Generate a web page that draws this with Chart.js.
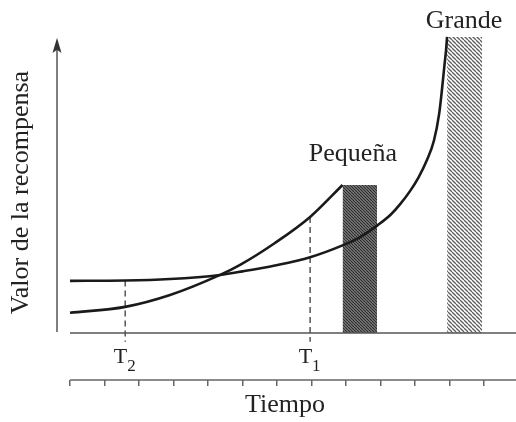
<!DOCTYPE html>
<html>
<head>
<meta charset="utf-8">
<script src="https://cdn.jsdelivr.net/npm/chart.js@4"></script>
<style>
  body { margin: 0; background: #fff; }
  #wrap { width: 516px; height: 422px; }
</style>
</head>
<body>
<div id="wrap"><canvas id="myChart"></canvas></div>
<script>
// curve data (time in tick units, value 0..100)
const timeSmall  = [0, 1.6, 2.9, 4.35, 4.93, 5.94, 6.96, 7.9];
const valueSmall = [6.8, 8.8, 12.8, 19.6, 23.0, 30.4, 39.2, 50];

const timeLarge  = [0, 1.6, 2.9, 4.35, 5.0, 5.94, 6.96, 7.9, 8.41, 8.93, 9.3, 9.57, 9.86, 10.1, 10.35, 10.55, 10.7, 10.78, 10.85, 10.9, 10.93];
const valueLarge = [17.6, 17.7, 18.2, 19.6, 20.8, 22.8, 25.6, 29.6, 32.4, 36.5, 40.0, 43.5, 48.0, 52.5, 58.5, 65, 74, 82, 90, 95.5, 100];

// reward bars
const rewardNames = ['Pequeña', 'Grande'];
const barStart  = [7.9, 10.93];
const barEnd    = [8.9, 11.95];
const barHeight = [50, 100];

// T marks
const markTimes  = [1.6, 6.96];
const markTops   = [17.7, 39.2];
const markSubs   = ['2', '1'];

const xMin = -0.377, xMax = 12.841, xEnd = 12.93;
const yMin = -15.9, yMax = 110.8;

// hatch patterns
function hatch(size, bg, fg, w) {
  const c = document.createElement('canvas');
  c.width = size; c.height = size;
  const g = c.getContext('2d');
  g.fillStyle = bg;
  g.fillRect(0, 0, size, size);
  g.strokeStyle = fg;
  g.lineWidth = w;
  for (let k = -2; k <= 2; k++) {
    g.beginPath();
    g.moveTo(k * size, 0);
    g.lineTo(k * size + size, size);
    g.stroke();
  }
  return g.createPattern(c, 'repeat');
}
const ctx0 = document.getElementById('myChart').getContext('2d');
const patternSmall = hatch(3, '#828282', '#2a2a2a', 1.1);
const patternLarge = hatch(4, '#ffffff', '#5e5e5e', 1.3);

// arrow head
const arrow = document.createElement('canvas');
arrow.width = 10; arrow.height = 16;
(function () {
  const g = arrow.getContext('2d');
  g.fillStyle = '#333';
  g.beginPath();
  g.moveTo(5, 0);
  g.lineTo(9.5, 15);
  g.lineTo(5, 12);
  g.lineTo(0.5, 15);
  g.closePath();
  g.fill();
})();

function pts(xs, ys) { return xs.map((x, i) => ({x: x, y: ys[i]})); }

const datasets = [];

// bars as filled rectangles
barStart.forEach((s, i) => {
  datasets.push({
    data: [{x: s, y: 0}, {x: s, y: barHeight[i]}, {x: barEnd[i], y: barHeight[i]}, {x: barEnd[i], y: 0}],
    borderWidth: 0,
    pointRadius: 0,
    fill: 'origin',
    backgroundColor: i === 0 ? patternSmall : patternLarge,
    order: 5
  });
});

// dashed T lines
markTimes.forEach((t, i) => {
  datasets.push({
    data: [{x: t, y: markTops[i]}, {x: t, y: -3}],
    borderColor: '#555',
    borderWidth: 1.5,
    borderDash: [6, 4],
    pointRadius: 0,
    order: 4
  });
});

// baseline, tick axis line, y axis with arrow
datasets.push({
  data: [{x: 0, y: 0}, {x: xEnd, y: 0}],
  borderColor: '#555', borderWidth: 1.5, pointRadius: 0, clip: false, order: 3
});
datasets.push({
  data: [{x: 0, y: yMin}, {x: xEnd, y: yMin}],
  borderColor: '#666', borderWidth: 1.5, pointRadius: 0, clip: false, order: 3
});
datasets.push({
  data: [{x: xMin, y: 0.3}, {x: xMin, y: 97}],
  borderColor: '#555', borderWidth: 1.5,
  pointRadius: [0, 8], pointStyle: arrow,
  clip: false, order: 3
});

// curves
datasets.push({
  data: pts(timeSmall, valueSmall),
  borderColor: '#1a1a1a', borderWidth: 2.6, pointRadius: 0,
  cubicInterpolationMode: 'monotone', order: 1
});
datasets.push({
  data: pts(timeLarge, valueLarge),
  borderColor: '#1a1a1a', borderWidth: 2.6, pointRadius: 0,
  cubicInterpolationMode: 'monotone', order: 1
});

const serif = '"Liberation Serif", "DejaVu Serif", serif';

const labelPlugin = {
  id: 'labels',
  afterDatasetsDraw(chart) {
    const {ctx, scales: {x, y}} = chart;
    ctx.save();
    ctx.fillStyle = '#222';
    ctx.textBaseline = 'alphabetic';
    ctx.textAlign = 'center';
    ctx.font = '26px ' + serif;
    ctx.fillText(rewardNames[0], x.getPixelForValue(8.2), y.getPixelForValue(58.1));
    ctx.fillText(rewardNames[1], x.getPixelForValue(11.42), y.getPixelForValue(103));
    markTimes.forEach((t, i) => {
      const px = x.getPixelForValue(t);
      ctx.textAlign = 'right';
      ctx.font = '22px ' + serif;
      ctx.fillText('T', px + 2, y.getPixelForValue(-10.1));
      ctx.textAlign = 'left';
      ctx.font = '17px ' + serif;
      ctx.fillText(markSubs[i], px + 2, y.getPixelForValue(-12.8));
    });
    ctx.restore();
  }
};

const config = {
  type: 'line',
  data: { datasets: datasets },
  options: {
    responsive: true,
    maintainAspectRatio: false,
    animation: false,
    events: [],
    layout: { autoPadding: false, padding: { top: 5, right: 3, bottom: 0, left: 0 } },
    plugins: { legend: { display: false }, tooltip: { enabled: false } },
    scales: {
      x: {
        type: 'linear',
        min: xMin, max: xMax,
        border: { display: false },
        grid: { display: true, drawOnChartArea: false, drawTicks: true, tickLength: 6, color: '#666', lineWidth: 1.5 },
        ticks: { display: false, stepSize: 1, includeBounds: false, autoSkip: false },
        title: { display: true, text: 'Tiempo', color: '#222', font: { family: serif, size: 26 }, padding: { top: 3, bottom: 1 } },
        afterFit: (s) => { s.height = 42; }
      },
      y: {
        type: 'linear',
        min: yMin, max: yMax,
        border: { display: false },
        grid: { display: false },
        ticks: { display: false },
        title: { display: true, text: 'Valor de la recompensa', color: '#222', font: { family: serif, size: 26 }, padding: { top: 6, bottom: 6 } },
        afterFit: (s) => { s.width = 57; }
      }
    }
  },
  plugins: [labelPlugin]
};

const myChart = new Chart(ctx0, config);
</script>
</body>
</html>
